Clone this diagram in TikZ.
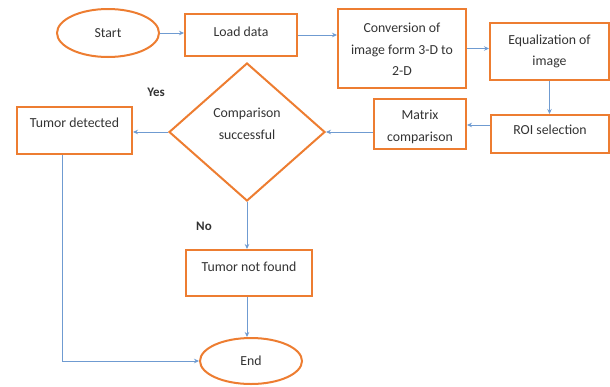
\documentclass[tikz,border=0pt]{standalone}
\usepackage{fontspec}
\setmainfont{Carlito}
\usetikzlibrary{shapes.geometric,arrows.meta}
\definecolor{boxorange}{HTML}{ED7D31}
\definecolor{linkblue}{HTML}{6F9BD1}
\tikzset{
  every node/.style={font=\fontsize{13.8}{21.5}\selectfont, text=black!80},
  procbox/.style={draw=boxorange, line width=2pt, rectangle, inner sep=0pt},
  termnode/.style={draw=boxorange, line width=2pt, ellipse, inner sep=0pt},
  decnode/.style={draw=boxorange, line width=2pt, diamond, inner sep=0pt},
  txt/.style={align=center, inner sep=0pt},
  lbl/.style={font=\fontsize{13}{16}\selectfont\bfseries, inner sep=0pt},
  link/.style={draw=linkblue, line width=0.8pt, -{Stealth[length=5pt,width=4.5pt]}},
}
\begin{document}
\begin{tikzpicture}[x=1pt,y=-1pt]
\useasboundingbox (0,0) rectangle (610,386);
% shapes
\node[termnode, minimum width=102pt, minimum height=48pt] (start) at (108,33) {};
\node[txt] (startt) at (108,33) {Start};
\node[procbox, minimum width=112pt, minimum height=42pt] (load) at (241,35) {};
\node[txt] (loadt) at (241,32) {Load data};
\node[procbox, minimum width=128pt, minimum height=79pt] (conv) at (402,48.5) {};
\node[txt] (convt) at (402,49.5) {Conversion of\\image form 3-D to\\2-D};
\node[procbox, minimum width=119pt, minimum height=57pt] (eq) at (549.5,51.5) {};
\node[txt] (eqt) at (549.5,51.5) {Equalization of\\image};
\node[procbox, minimum width=118pt, minimum height=38pt] (roi) at (550,134) {};
\node[txt] (roit) at (550,130) {ROI selection};
\node[procbox, minimum width=92pt, minimum height=50pt] (mat) at (420,124) {};
\node[txt] (matt) at (420,127) {Matrix\\comparison};
\node[decnode, minimum width=156pt, minimum height=138pt] (dia) at (247,132) {};
\node[txt] (diat) at (247,124) {Comparison\\successful};
\node[procbox, minimum width=115pt, minimum height=47pt] (td) at (74.5,130.5) {};
\node[txt] (tdt) at (74.5,123) {Tumor detected};
\node[procbox, minimum width=126pt, minimum height=46pt] (tnf) at (249,273) {};
\node[txt] (tnft) at (249,267) {Tumor not found};
\node[termnode, minimum width=102pt, minimum height=46pt] (end) at (251,361) {};
\node[txt] (endt) at (251,361) {End};
\node[lbl] (yes) at (156,92) {Yes};
\node[lbl] (no) at (204,226) {No};
% connectors
\draw[link] (start.east) -- (start.east -| load.west);
\draw[link] (load.east) -- (load.east -| conv.west);
\draw[link] (conv.east) -- (conv.east -| eq.west);
\draw[link] (eq.south) -- (eq.south |- roi.north);
\draw[link] ([yshift=9pt]roi.west) -- ([yshift=9pt]roi.west -| mat.east);
\draw[link] (mat.west |- dia.east) -- (dia.east);
\draw[link] (dia.west) -- (dia.west -| td.east);
\draw[link] (dia.south) -- (dia.south |- tnf.north);
\draw[link] (tnf.south -| dia.south) -- (dia.south |- end.north);
\draw[link] ([xshift=-12.5pt]td.south) |- (end.west);
\end{tikzpicture}
\end{document}
